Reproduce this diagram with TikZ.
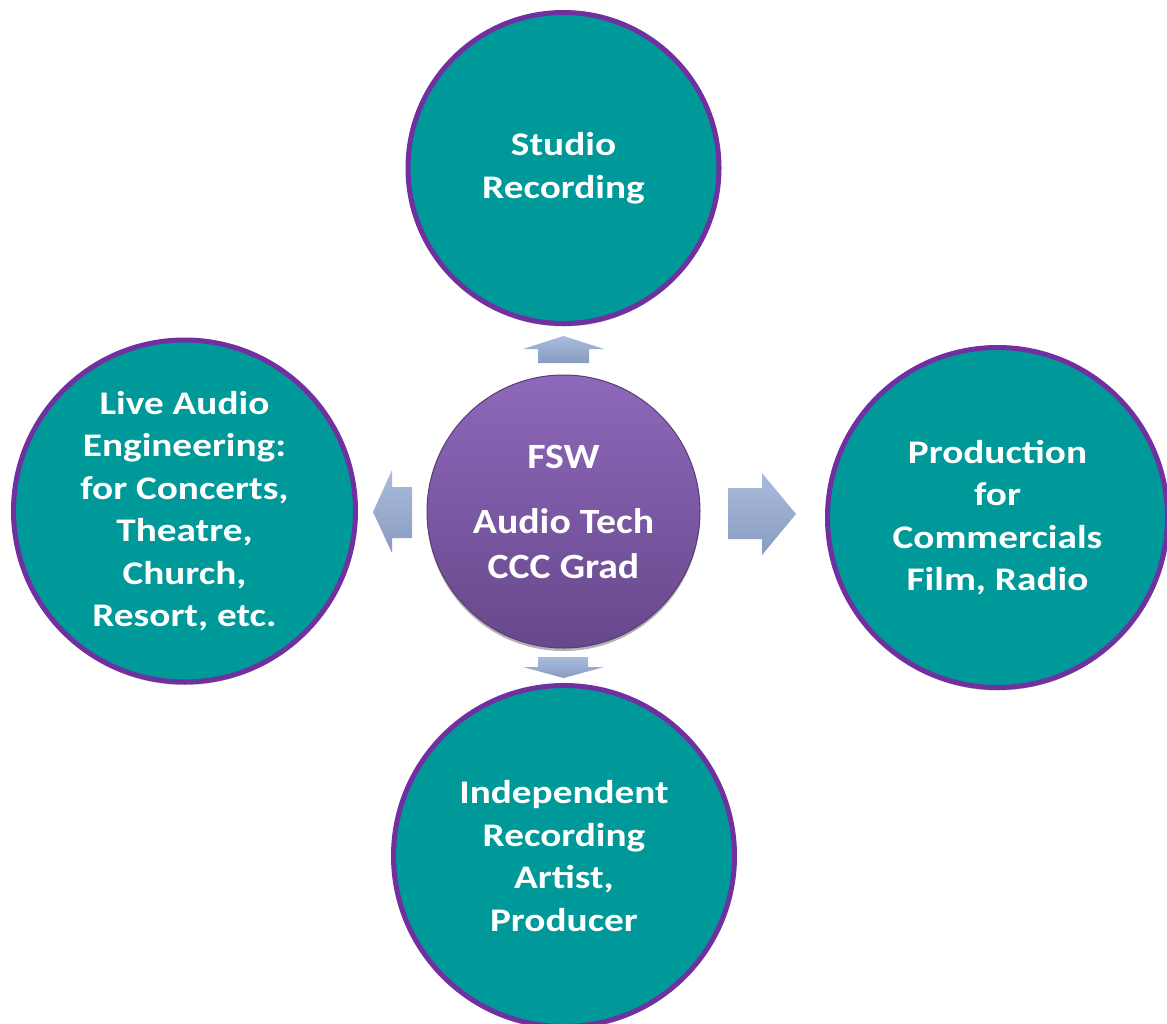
\documentclass[tikz,border=0pt]{standalone}
\usepackage{fontspec}
\setmainfont{Carlito}
\newfontfamily\outerfont[FakeStretch=1.19]{Carlito}
\newfontfamily\hubfont[FakeStretch=1.12]{Carlito}
\usetikzlibrary{shadows}
\definecolor{teal1}{RGB}{0,153,153}
\definecolor{purp}{RGB}{112,48,160}
\definecolor{ctop}{RGB}{142,104,186}
\definecolor{cbot}{RGB}{104,72,140}
\definecolor{crim}{RGB}{88,60,120}
\definecolor{atop}{RGB}{170,188,220}
\definecolor{abot}{RGB}{136,156,192}
\tikzset{
  outer/.style={circle, fill=teal1, draw=purp, line width=5pt, inner sep=0pt,
    text=white, align=center, font=\outerfont\bfseries\fontsize{33}{42.5}\selectfont,
    drop shadow={shadow xshift=0pt, shadow yshift=-3pt, opacity=0.25, fill=black}},
  hub/.style={circle, top color=ctop, bottom color=cbot, draw=crim, line width=1pt,
    inner sep=0pt, text=white, align=center, font=\hubfont\bfseries\fontsize{35.5}{45}\selectfont,
    drop shadow={shadow xshift=0pt, shadow yshift=-3pt, opacity=0.3, fill=black}},
  blockarrow/.style={top color=atop, bottom color=abot, draw=none},
}
\begin{document}
\begin{tikzpicture}[x=1pt,y=-1pt]
\useasboundingbox (0,0) rectangle (1167,1023);
\fill[white] (0,0) rectangle (1167,1023);
% block arrows
\path[blockarrow] (538,363) -- (538,349) -- (523,349) -- (563.5,336) -- (604,349) -- (589,349) -- (589,363) -- cycle;
\path[blockarrow] (538,657) -- (588,657) -- (588,667) -- (604,667) -- (563.5,678) -- (523,667) -- (538,667) -- cycle;
\path[blockarrow] (412,487) -- (392,487) -- (392,470) -- (373,512) -- (392,553) -- (392,538) -- (412,538) -- cycle;
\path[blockarrow] (728,488) -- (762,488) -- (762,473) -- (796,514) -- (762,555) -- (762,539) -- (728,539) -- cycle;
% circles
\node[outer, minimum size=311pt] (top) at (563.5,168) {Studio\\Recording};
\node[outer, minimum size=342pt] (left) at (184.5,511) {Live Audio\\Engineering:\\for Concerts,\\Theatre,\\Church,\\Resort, etc.};
\node[outer, minimum size=340pt] (right) at (997.5,517.5) {Production\\for\\Commercials\\Film, Radio};
\node[outer, minimum size=341pt] (bottom) at (564,856) {Independent\\Recording\\Artist,\\Producer};
\node[hub, minimum size=273pt] (hub) at (563.5,511.5) {FSW\\[20pt]Audio Tech\\CCC Grad};
\end{tikzpicture}
\end{document}
